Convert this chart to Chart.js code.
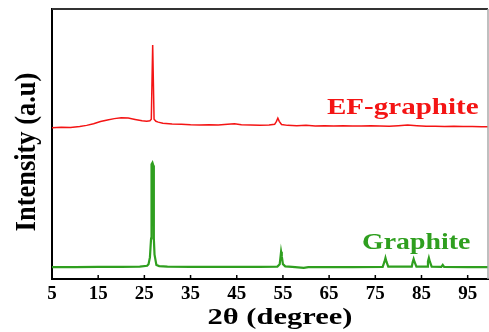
<!DOCTYPE html>
<html><head><meta charset="utf-8">
<script src="https://cdn.jsdelivr.net/npm/chart.js@4.4.1/dist/chart.umd.min.js"></script>
<style>html,body{margin:0;padding:0;background:#fff;}#wrap{width:489px;height:332px;}</style>
</head><body><div id="wrap"><canvas id="c" width="489" height="332"></canvas></div>
<script>
// ---- data ----
const xTickValues = [5, 15, 25, 35, 45, 55, 65, 75, 85, 95];
const xTitle = '2θ (degree)';
const yTitle = 'Intensity (a.u)';
const seriesNames = ['EF-graphite', 'Graphite'];

const efAngle = [5, 7, 9, 11, 12.5, 14, 15.5, 17, 18.5, 20, 21.5, 23, 24.5, 25.5, 26.2, 26.5, 26.8, 27.1, 27.5, 28, 29, 31, 33, 35, 37, 39, 41, 43, 44.5, 46, 48, 50, 52, 53.2, 53.6, 53.9, 54.2, 54.7, 56, 58, 60, 62, 64, 66, 68, 70, 72, 74, 76, 78, 80, 82, 84, 86, 88, 90, 92, 94, 96, 98, 99.4];
const efIntensity = [56.0, 56.2, 56.1, 56.5, 56.9, 57.5, 58.3, 58.9, 59.4, 59.7, 59.6, 59.1, 58.6, 58.4, 58.6, 59.2, 86.7, 59.2, 58.4, 58.1, 57.7, 57.4, 57.3, 57.1, 57.0, 57.1, 57.0, 57.3, 57.5, 57.1, 57.0, 56.9, 57.0, 57.3, 58.4, 59.6, 58.4, 57.2, 56.9, 56.8, 56.9, 56.7, 56.8, 56.7, 56.8, 56.7, 56.7, 56.8, 56.7, 56.6, 56.8, 57.0, 56.8, 56.6, 56.6, 56.5, 56.6, 56.5, 56.5, 56.4, 56.4];

const grAngle = [5, 10, 15, 20, 24, 25.6, 25.9, 26.2, 26.45, 26.55, 26.75, 26.95, 27.05, 27.2, 27.6, 28.2, 30, 35, 40, 45, 50, 53.8, 54.3, 54.5, 54.6, 54.75, 55.0, 55.5, 57, 59.5, 60.5, 65, 70, 76.6, 77.0, 77.2, 77.4, 77.8, 82.9, 83.1, 83.3, 83.5, 83.9, 86.2, 86.4, 86.6, 86.8, 87.2, 89.3, 89.6, 89.9, 95, 99.4];
const grIntensity = [4.4, 4.4, 4.5, 4.5, 4.6, 4.9, 5.5, 8, 15, 42.5, 43.1, 42, 15, 9, 5.2, 4.8, 4.6, 4.5, 4.5, 4.5, 4.5, 4.6, 5.5, 8.5, 10.1, 8.5, 5.5, 4.7, 4.5, 4.1, 4.4, 4.4, 4.4, 4.5, 6.5, 7.8, 6.5, 4.6, 4.6, 6.3, 7.4, 6.3, 4.6, 4.6, 6.5, 7.8, 6.5, 4.6, 4.5, 5.2, 4.5, 4.4, 4.4];

const RED = '#f41414';
const GREEN = '#2f9f1f';
const SERIF = '"Liberation Serif", "Times New Roman", serif';

const toPoints = (xs, ys) => xs.map((x, i) => ({x: x, y: ys[i]}));

const decor = {
  id: 'decor',
  afterDraw(chart) {
    const ctx = chart.ctx, a = chart.chartArea, xs = chart.scales.x;
    ctx.save();
    // top and right frame
    ctx.strokeStyle = '#333';
    ctx.lineWidth = 2;
    ctx.beginPath(); ctx.moveTo(a.left, a.top); ctx.lineTo(a.right, a.top); ctx.stroke();
    ctx.strokeStyle = '#aaa';
    ctx.lineWidth = 1.5;
    ctx.beginPath(); ctx.moveTo(a.right, a.top); ctx.lineTo(a.right, a.bottom); ctx.stroke();
    // inward tick marks
    ctx.strokeStyle = '#000';
    ctx.lineWidth = 1.5;
    xTickValues.forEach(v => {
      const p = xs.getPixelForValue(v);
      ctx.beginPath(); ctx.moveTo(p, a.bottom); ctx.lineTo(p, a.bottom - 4); ctx.stroke();
    });
    // x axis title
    ctx.fillStyle = '#000';
    ctx.font = 'bold 24px ' + SERIF;
    ctx.textAlign = 'center';
    ctx.textBaseline = 'middle';
    ctx.save(); ctx.translate(280, 317.5); ctx.scale(1.27, 1); ctx.fillText(xTitle, 0, 0); ctx.restore();
    // y axis title
    ctx.font = 'bold 27px ' + SERIF;
    ctx.save(); ctx.translate(27, 152); ctx.rotate(-Math.PI / 2); ctx.scale(0.98, 1.12); ctx.fillText(yTitle, 0, 0); ctx.restore();
    // series labels
    ctx.font = 'bold 24px ' + SERIF;
    ctx.textAlign = 'left';
    ctx.textBaseline = 'alphabetic';
    ctx.fillStyle = RED;
    ctx.save(); ctx.translate(327, 113.5); ctx.scale(1.21, 1); ctx.fillText(seriesNames[0], 0, 0); ctx.restore();
    ctx.fillStyle = GREEN;
    ctx.save(); ctx.translate(362, 249.3); ctx.scale(1.16, 1); ctx.fillText(seriesNames[1], 0, 0); ctx.restore();
    ctx.restore();
  }
};

new Chart(document.getElementById('c'), {
  type: 'line',
  data: {
    datasets: [
      {label: seriesNames[0], data: toPoints(efAngle, efIntensity), borderColor: RED, borderWidth: 1.5, pointRadius: 0, tension: 0, fill: false},
      {label: seriesNames[1], data: toPoints(grAngle, grIntensity), borderColor: GREEN, borderWidth: 2.2, pointRadius: 0, tension: 0, fill: false}
    ]
  },
  options: {
    responsive: false,
    animation: false,
    layout: {padding: {top: 9, right: 1, left: 0, bottom: 0}},
    plugins: {legend: {display: false}, tooltip: {enabled: false}},
    scales: {
      x: {
        type: 'linear', min: 5, max: 99.4,
        afterBuildTicks: s => { s.ticks = xTickValues.map(v => ({value: v})); },
        afterFit: s => { s.height = 53; },
        grid: {display: false},
        border: {display: true, color: '#000', width: 2},
        ticks: {color: '#000', padding: -4, font: {family: SERIF, size: 19, weight: 'bold'}, maxRotation: 0, autoSkip: false}
      },
      y: {
        min: 0, max: 100,
        afterFit: s => { s.width = 52; },
        grid: {display: false},
        border: {display: true, color: '#000', width: 2},
        ticks: {display: false},
        title: {display: false, text: yTitle}
      }
    }
  },
  plugins: [decor]
});
</script>
</body></html>
